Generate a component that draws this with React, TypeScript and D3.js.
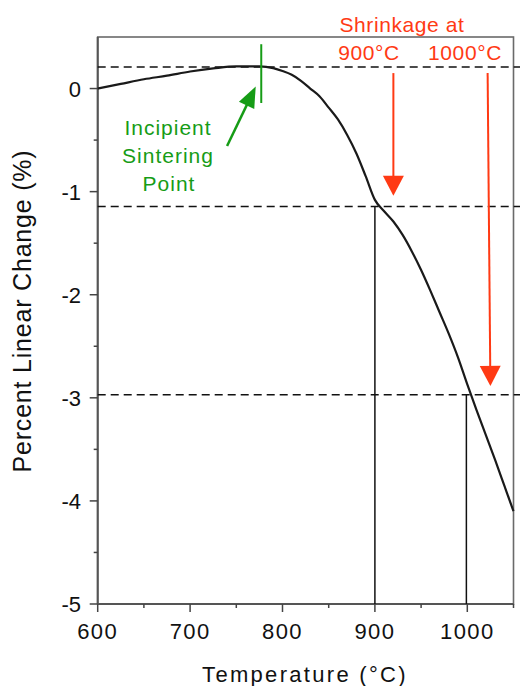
import React from "react";
import * as d3 from "d3";

const temperature = [600, 625, 650, 675, 700, 725, 750, 775, 790, 800, 810, 820, 830, 840, 850, 860, 870, 880, 890, 900, 910, 920, 930, 940, 950, 960, 970, 980, 990, 1000, 1010, 1020, 1030, 1040, 1050];
const linearChange = [0, 0.045, 0.09, 0.125, 0.165, 0.195, 0.215, 0.215, 0.198, 0.17, 0.133, 0.075, 0.0, -0.075, -0.185, -0.3, -0.45, -0.63, -0.85, -1.08, -1.19, -1.29, -1.42, -1.58, -1.76, -1.96, -2.17, -2.38, -2.61, -2.87, -3.12, -3.36, -3.6, -3.85, -4.1];

const xTicks = [600, 700, 800, 900, 1000];
const xMinorTicks = [650, 750, 850, 950, 1050];
const yTicks = [0, -1, -2, -3, -4, -5];
const yMinorTicks = [-0.5, -1.5, -2.5, -3.5, -4.5];

const dashedLevels = [0.21, -1.145, -2.97];
const shrinkTemps = [900, 999];
const shrinkLevels = [-1.145, -2.97];

const W = 520;
const H = 686;
const FONT = "'Liberation Sans', Arial, Helvetica, sans-serif";
const RED = "#ff3a14";
const GREEN = "#169c16";

export default function App() {
  const x = d3.scaleLinear().domain([600, 1050]).range([97.7, 513.5]);
  const y = d3.scaleLinear().domain([-5, 0.5]).range([604, 37]);

  const data = temperature.map((t, i) => [t, linearChange[i]] as [number, number]);
  const line = d3
    .line<[number, number]>()
    .x((d) => x(d[0]))
    .y((d) => y(d[1]))
    .curve(d3.curveMonotoneX);

  const left = x(600);
  const right = x(1050);
  const top = y(0.5);
  const bottom = y(-5);

  const tri = (tx: number, ty: number, ang: number, len: number, wid: number) => {
    // tip at (tx,ty), pointing direction ang (radians)
    const bx = tx - Math.cos(ang) * len;
    const by = ty - Math.sin(ang) * len;
    const px = -Math.sin(ang) * (wid / 2);
    const py = Math.cos(ang) * (wid / 2);
    return `M${tx},${ty}L${bx + px},${by + py}L${bx - px},${by - py}Z`;
  };

  // red arrows
  const a1x = x(920);
  const a1y0 = y(0.15);
  const a1y1 = y(-1.04);
  const a2x0 = x(1022);
  const a2x1 = x(1025);
  const a2y0 = y(0.15);
  const a2y1 = y(-2.885);
  const ang2 = Math.atan2(a2y1 - a2y0, a2x1 - a2x0);

  // green arrow
  const gx0 = x(740);
  const gy0 = y(-0.557);
  const gx1 = x(771);
  const gy1 = y(0.02);
  const angG = Math.atan2(gy1 - gy0, gx1 - gx0);

  return (
    <svg
      width={W}
      height={H}
      style={{ position: "absolute", left: 0, top: 0, background: "#fff" }}
      fontFamily={FONT}
    >
      {/* frame */}
      <rect x={left} y={top} width={right - left} height={bottom - top} fill="none" stroke="#6a6a6a" strokeWidth={1.6} />
      <line x1={left} x2={left} y1={top} y2={bottom} stroke="#555" strokeWidth={2} />
      <line x1={left} x2={right} y1={bottom} y2={bottom} stroke="#555" strokeWidth={2} />

      {/* x ticks */}
      {xTicks.map((t) => (
        <g key={"xt" + t}>
          <line x1={x(t)} x2={x(t)} y1={bottom} y2={bottom + 8} stroke="#444" strokeWidth={1.5} />
          <text x={x(t)} y={639} textAnchor="middle" fontSize={22} letterSpacing={1.4} fill="#111">
            {t}
          </text>
        </g>
      ))}
      {xMinorTicks.map((t) => (
        <line key={"xm" + t} x1={x(t)} x2={x(t)} y1={bottom} y2={bottom + 4} stroke="#444" strokeWidth={1.5} />
      ))}

      {/* y ticks */}
      {yTicks.map((t) => (
        <g key={"yt" + t}>
          <line x1={left - 8} x2={left} y1={y(t)} y2={y(t)} stroke="#444" strokeWidth={1.5} />
          <text x={81} y={y(t) + 8} textAnchor="end" fontSize={22} fill="#111">
            {t}
          </text>
        </g>
      ))}
      {yMinorTicks.map((t) => (
        <line key={"ym" + t} x1={left - 4} x2={left} y1={y(t)} y2={y(t)} stroke="#444" strokeWidth={1.5} />
      ))}

      {/* axis titles */}
      <text x={305} y={682} textAnchor="middle" fontSize={22} letterSpacing={2.3} fill="#111">
        Temperature (°C)
      </text>
      <text
        transform={`translate(31,311) rotate(-90)`}
        textAnchor="middle"
        fontSize={25}
        letterSpacing={0.8}
        fill="#111"
      >
        Percent Linear Change (%)
      </text>

      {/* dashed reference lines */}
      {dashedLevels.map((v) => (
        <line key={"d" + v} x1={left} x2={W} y1={y(v)} y2={y(v)} stroke="#111" strokeWidth={1.5} strokeDasharray="8,5" />
      ))}

      {/* vertical drop lines */}
      {shrinkTemps.map((t, i) => (
        <line key={"v" + t} x1={x(t)} x2={x(t)} y1={y(shrinkLevels[i])} y2={bottom} stroke="#111" strokeWidth={1.5} />
      ))}

      {/* curve */}
      <path d={line(data) || ""} fill="none" stroke="#1a1a1a" strokeWidth={2.2} />

      {/* green annotation */}
      <line x1={x(777)} x2={x(777)} y1={y(0.43)} y2={y(-0.14)} stroke={GREEN} strokeWidth={2} />
      <line
        x1={gx0}
        y1={gy0}
        x2={gx1 - Math.cos(angG) * 14}
        y2={gy1 - Math.sin(angG) * 14}
        stroke={GREEN}
        strokeWidth={2.5}
      />
      <path d={tri(gx1, gy1, angG, 21, 17)} fill={GREEN} />
      <g fill={GREEN} fontSize={21} letterSpacing={1} textAnchor="middle">
        <text x={168} y={135}>Incipient</text>
        <text x={168} y={163}>Sintering</text>
        <text x={169} y={191}>Point</text>
      </g>

      {/* red annotations */}
      <g fill={RED} fontSize={21} textAnchor="middle">
        <text x={402} y={32} letterSpacing={0.6}>Shrinkage at</text>
        <text x={369} y={60} letterSpacing={0.6}>900°C</text>
        <text x={465} y={60} letterSpacing={0.6}>1000°C</text>
      </g>
      <line x1={a1x} x2={a1x} y1={a1y0} y2={a1y1 - 16} stroke={RED} strokeWidth={2} />
      <path d={tri(a1x, a1y1, Math.PI / 2, 20, 21)} fill={RED} />
      <line
        x1={a2x0}
        y1={a2y0}
        x2={a2x1 - Math.cos(ang2) * 16}
        y2={a2y1 - Math.sin(ang2) * 16}
        stroke={RED}
        strokeWidth={2}
      />
      <path d={tri(a2x1, a2y1, ang2, 20, 21)} fill={RED} />
    </svg>
  );
}
